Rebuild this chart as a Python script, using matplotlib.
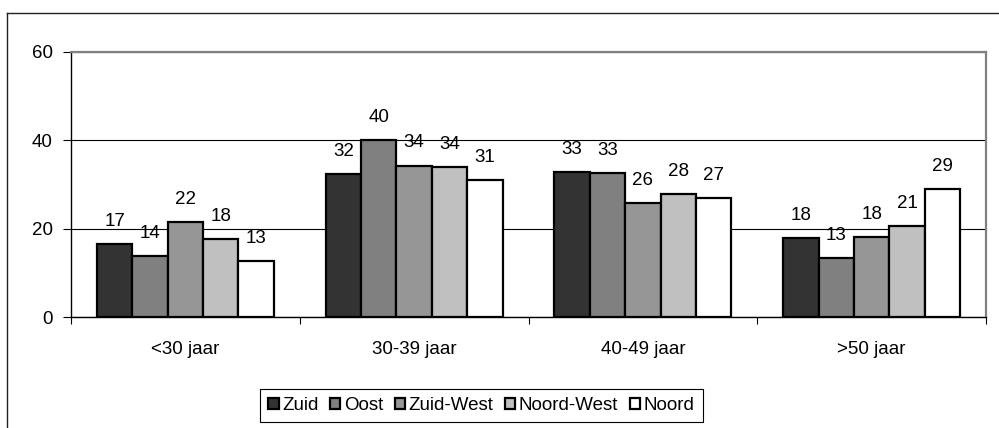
import numpy as np
import matplotlib.pyplot as plt
from matplotlib.lines import Line2D

plt.rcParams['font.family'] = ['Liberation Sans', 'DejaVu Sans']

# leeftijdsgroepen per regio
groepen = ['<30 jaar', '30-39 jaar', '40-49 jaar', '>50 jaar']
regios = ['Zuid', 'Oost', 'Zuid-West', 'Noord-West', 'Noord']
zuid = [16.6, 32.3, 32.9, 17.8]
oost = [13.7, 40.0, 32.6, 13.3]
zuid_west = [21.6, 34.3, 25.7, 18.2]
noord_west = [17.6, 33.9, 27.8, 20.6]
noord = [12.6, 31.1, 26.9, 29.0]
kleuren = ['#333333', '#808080', '#969696', '#c0c0c0', '#ffffff']

reeksen = [zuid, oost, zuid_west, noord_west, noord]
fs = 13.5

fig = plt.figure(figsize=(9.99, 4.28), dpi=100)
ax = fig.add_axes([71 / 999, 1 - 317 / 428, 915 / 999, 265 / 428])

x = np.arange(len(groepen))
w = 0.773 / len(regios)
for i, (naam, vals, kl) in enumerate(zip(regios, reeksen, kleuren)):
    pos = x + (i - 2) * w
    ax.bar(pos, vals, width=w, color=kl, edgecolor='black', linewidth=1.6,
           label=naam, zorder=3)
    for px, v in zip(pos, vals):
        ax.annotate(f'{v:.0f}', (px, v), xytext=(0, 13), textcoords='offset points',
                    ha='center', va='baseline', fontsize=fs)

ax.set_xlim(-0.5, 3.5)
ax.set_ylim(0, 60)
ax.set_yticks([0, 20, 40, 60])
ax.yaxis.grid(True, color='black', linewidth=0.8, zorder=0)
ax.tick_params(axis='y', length=6, width=0.8, pad=7, labelsize=fs)

ax.set_xticks(x)
ax.set_xticklabels(groepen)
ax.set_xticks(np.arange(-0.5, 4, 1), minor=True)
ax.tick_params(axis='x', which='major', length=0, pad=17, labelsize=fs)
ax.tick_params(axis='x', which='minor', length=5, width=0.8)

for s in ['left', 'bottom']:
    ax.spines[s].set_color('black')
    ax.spines[s].set_linewidth(1.0)
for s in ['top', 'right']:
    ax.spines[s].set_color('#808080')
    ax.spines[s].set_linewidth(1.6)

leg = fig.legend(loc='center', bbox_to_anchor=(481.5 / 999, 1 - 405.5 / 428),
                 ncol=5, fontsize=fs, handlelength=0.55, handleheight=0.55,
                 handletextpad=0.2, columnspacing=0.6, borderpad=0.45,
                 fancybox=False, edgecolor='black', framealpha=1)
leg.get_frame().set_linewidth(0.8)

# rand van het grafiekgebied
fig.add_artist(Line2D([7 / 999, 7 / 999], [0, 1 - 13 / 428], color='#222222', linewidth=1.0))
fig.add_artist(Line2D([7 / 999, 1], [1 - 13 / 428, 1 - 13 / 428], color='#222222', linewidth=1.0))

fig.savefig('out.png', dpi=100)
